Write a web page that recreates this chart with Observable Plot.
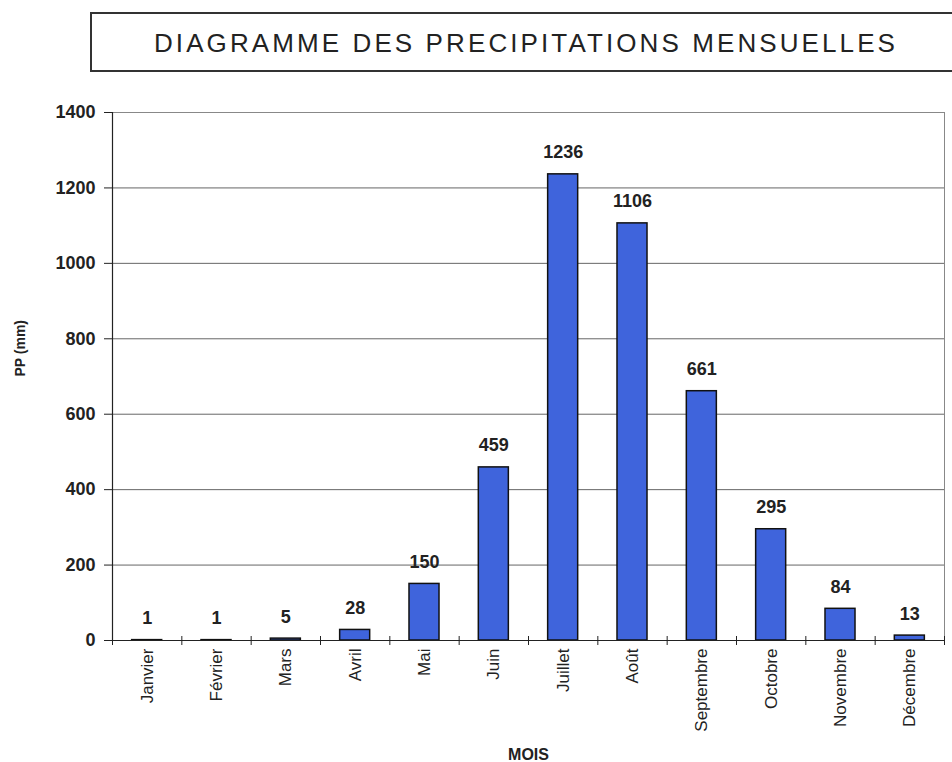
<!DOCTYPE html>
<html>
<head>
<meta charset="utf-8">
<script src="https://cdn.jsdelivr.net/npm/d3@7"></script>
<script src="https://cdn.jsdelivr.net/npm/@observablehq/plot@0.6"></script>
<style>
  html, body { margin: 0; padding: 0; background: #fff; overflow: hidden; }
  #wrap { position: relative; width: 952px; height: 762px; }
  #box { position: absolute; left: 90px; top: 12px; width: 900px; height: 56px; border: 2px solid #333; box-sizing: content-box; }
  #title { position: absolute; left: 0; width: 1052px; top: 30px; text-align: center; font-family: "Liberation Sans", Arial, sans-serif; font-size: 26px; line-height: 1; letter-spacing: 3.1px; color: #222; white-space: nowrap; }
  #chart { position: absolute; left: 0; top: 0; }
</style>
</head>
<body>
<div id="wrap">
  <div id="chart"></div>
  <div id="box"></div>
  <div id="title">DIAGRAMME DES PRECIPITATIONS MENSUELLES</div>
</div>
<script>
const months = ["Janvier","Février","Mars","Avril","Mai","Juin","Juillet","Août","Septembre","Octobre","Novembre","Décembre"];
const values = [1, 1, 5, 28, 150, 459, 1236, 1106, 661, 295, 84, 13];
const yTicks = [0, 200, 400, 600, 800, 1000, 1200, 1400];
const yLabel = "PP (mm)";
const xLabel = "MOIS";

const data = months.map((m, i) => ({month: m, value: values[i]}));

const W = 952, H = 762, mL = 112, mR = 8, mT = 112, mB = 122;
const step = (W - mL - mR) / months.length;
const pin = 0.567;

const chart = Plot.plot({
  width: W, height: H,
  marginLeft: mL, marginRight: mR, marginTop: mT, marginBottom: mB,
  style: {fontFamily: "'Liberation Sans', Arial, sans-serif", fontSize: "16px", background: "transparent", color: "#222"},
  x: {domain: months, paddingInner: pin, paddingOuter: pin / 2, round: false, label: null},
  y: {domain: [0, 1400], ticks: yTicks, label: null, axis: null},
  marks: [
    Plot.ruleY(yTicks, {stroke: "#666", strokeWidth: 1}),
    Plot.frame({stroke: "#888", strokeWidth: 1}),
    Plot.barY(data, {x: "month", y: "value", fill: "#3f64dc", stroke: "#111", strokeWidth: 1.5}),
    Plot.ruleY([0], {stroke: "#222", strokeWidth: 1.2}),
    Plot.ruleX([months[0]], {dx: -step / 2, stroke: "#222", strokeWidth: 1.2}),
    Plot.ruleX(months, {y1: 0, y2: 0, dx: -step / 2, insetTop: -4, insetBottom: -5, stroke: "#222"}),
    Plot.ruleX([months[months.length - 1]], {y1: 0, y2: 0, dx: step / 2, insetTop: -4, insetBottom: -5, stroke: "#222"}),
    Plot.ruleY(yTicks, {insetLeft: -8, insetRight: W - mL - mR, stroke: "#222"}),
    Plot.text(data, {x: "month", y: "value", text: d => String(d.value), dy: -16, lineAnchor: "bottom", fontWeight: "bold", fontSize: 18, fill: "#222", ariaLabel: "vlabels"}),
    Plot.text(yTicks, {y: d => d, text: d => String(d), frameAnchor: "left", dx: -17, textAnchor: "end", fontWeight: "bold", fontSize: 18, fill: "#222", ariaLabel: "ylabels"}),
    Plot.axisX({tickSize: 0, tickRotate: -90, tickPadding: 8, fontSize: 17, label: null}),
    Plot.text([yLabel], {frameAnchor: "left", dx: -92, rotate: -90, fontWeight: "bold", fontSize: 14, fill: "#222"}),
    Plot.text([xLabel], {frameAnchor: "bottom", dy: 119, lineAnchor: "bottom", fontWeight: "bold", fontSize: 16, fill: "#222", ariaLabel: "xtitle"})
  ]
});
document.getElementById("chart").appendChild(chart);
chart.querySelectorAll('g[aria-label="vlabels"] text, g[aria-label="ylabels"] text').forEach(t => t.style.letterSpacing = "2px");
chart.querySelectorAll('g[aria-label="xtitle"] text').forEach(t => t.style.letterSpacing = "4px");
</script>
</body>
</html>
